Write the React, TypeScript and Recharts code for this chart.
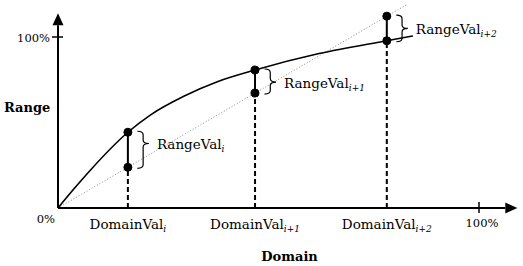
import { ComposedChart, Line, XAxis, YAxis, ReferenceLine, ReferenceDot, Label } from "recharts";

// concave mapping curve (domain %, range %)
const curveX = [0, 4, 8, 16.6, 22, 30, 38, 46.8, 62, 78.1, 84.3];
const curveY = [0, 11.8, 23, 44.3, 54.5, 65.5, 74, 80.7, 90.3, 97.8, 100.6];
// dotted linear reference
const lineX = [0, 83.1];
const lineY = [0, 119.3];
// sample points
const domainVals = [16.6, 46.8, 78.1];
const curveAt = [44.3, 80.7, 97.8];
const lineAt = [23.8, 67.2, 112.2];
const subscripts = ["i", "i+1", "i+2"];
const xTicks = [...domainVals, 100];
const yTicks = [0, 100];
const axisEnd = { x: 109.1, y: 113.9 };

// where the brace point sits along each gap (0 = top, 1 = bottom)
const braceTip = [0.33, 0.52, 0.5];

// only serif face available here
const FONT = "DejaVu Serif";

const curveData = curveX.map((x, i) => ({ x, y: curveY[i] }));
const lineData = lineX.map((x, i) => ({ x, y: lineY[i] }));

function ArrowLine(props: any) {
  const { x1, y1, x2, y2 } = props;
  const dx = x2 - x1;
  const dy = y2 - y1;
  const len = Math.hypot(dx, dy) || 1;
  const ux = dx / len;
  const uy = dy / len;
  const hl = 12;
  const hw = 5.5;
  const bx = x2 - ux * hl;
  const by = y2 - uy * hl;
  const px = -uy;
  const py = ux;
  return (
    <g>
      <line x1={x1} y1={y1} x2={bx} y2={by} stroke="#000" strokeWidth={2} />
      <polygon
        points={`${x2},${y2} ${bx + px * hw},${by + py * hw} ${bx - px * hw},${by - py * hw}`}
        fill="#000"
      />
    </g>
  );
}

function makeBrace(sub: string, frac: number) {
  return (p: any) => {
    const { x1, y1, x2, y2 } = p;
    const top = Math.min(y1, y2) - 1;
    const bot = Math.max(y1, y2) + 1;
    const tip = top + (bot - top) * frac;
    const w = 11.5;
    const bx = x1 + 9.5;
    const cx = bx + w / 2;
    const c = 3.5;
    const d = `M${bx},${top} Q${cx},${top} ${cx},${top + c} L${cx},${tip - c} Q${cx},${tip} ${bx + w},${tip} Q${cx},${tip} ${cx},${tip + c} L${cx},${bot - c} Q${cx},${bot} ${bx},${bot}`;
    return (
      <g>
        <line x1={x1} y1={y1} x2={x2} y2={y2} stroke="#000" strokeWidth={2} />
        <path d={d} fill="none" stroke="#000" strokeWidth={1.2} />
        <text x={bx + w + 8} y={tip + 5.5} fontSize={13.5} fontFamily={FONT} fill="#000">
          RangeVal
          <tspan fontSize={9} fontStyle="italic" dy={3}>{sub}</tspan>
        </text>
      </g>
    );
  };
}

function XTick({ x, y, payload }: any) {
  const v = payload.value;
  if (v === 100) {
    return (
      <g>
        <line x1={x} x2={x} y1={y - 6} y2={y + 5} stroke="#000" strokeWidth={1.5} />
        <text x={x + 3} y={y + 19} textAnchor="middle" fontSize={11.5} fontFamily={FONT} fill="#000">100%</text>
      </g>
    );
  }
  const idx = domainVals.indexOf(v);
  return (
    <text x={x} y={y + 21} textAnchor="middle" fontSize={13.5} fontFamily={FONT} fill="#000">
      DomainVal
      <tspan fontSize={9} fontStyle="italic" dy={3}>{subscripts[idx]}</tspan>
    </text>
  );
}

function YTick({ x, y, payload }: any) {
  if (payload.value === 100) {
    return (
      <g>
        <line x1={x - 6} x2={x + 5} y1={y} y2={y} stroke="#000" strokeWidth={1.5} />
        <text x={x - 8} y={y + 5} textAnchor="end" fontSize={11.5} fontFamily={FONT} fill="#000">100%</text>
      </g>
    );
  }
  return (
    <text x={x - 3} y={y + 15} textAnchor="end" fontSize={11.5} fontFamily={FONT} fill="#000">0%</text>
  );
}

export default function App() {
  return (
    <div style={{ position: "absolute", left: 0, top: 0, width: 523, height: 266, background: "#fff" }}>
      <ComposedChart width={523} height={266} margin={{ top: 2.8, right: 1.9, bottom: 0, left: 0 }}>
        <XAxis
          type="number"
          dataKey="x"
          domain={[0, 110]}
          ticks={xTicks}
          interval={0}
          tick={<XTick />}
          axisLine={false}
          tickLine={false}
          tickSize={0}
          tickMargin={0}
          height={58}
        >
          <Label value="Domain" position="insideBottom" offset={5} fontSize={13} fontWeight="bold" fontFamily={FONT} fill="#000" />
        </XAxis>
        <YAxis
          type="number"
          dataKey="y"
          domain={[0, 120]}
          ticks={yTicks}
          interval={0}
          tick={<YTick />}
          axisLine={false}
          tickLine={false}
          tickSize={0}
          tickMargin={0}
          width={58}
        >
          <Label value="Range" position="insideLeft" offset={4} dy={2} fontSize={13} fontWeight="bold" fontFamily={FONT} fill="#000" />
        </YAxis>

        <Line
          data={lineData}
          dataKey="y"
          type="linear"
          stroke="#8a8a8a"
          strokeWidth={1}
          strokeDasharray="1 2"
          dot={false}
          activeDot={false}
          isAnimationActive={false}
        />
        <Line
          data={curveData}
          dataKey="y"
          type="monotone"
          stroke="#000"
          strokeWidth={1.6}
          dot={false}
          activeDot={false}
          isAnimationActive={false}
        />

        <ReferenceLine segment={[{ x: 0, y: 0 }, { x: axisEnd.x, y: 0 }]} shape={ArrowLine} ifOverflow="visible" />
        <ReferenceLine segment={[{ x: 0, y: 0 }, { x: 0, y: axisEnd.y }]} shape={ArrowLine} ifOverflow="visible" />

        {domainVals.map((d, i) => (
          <ReferenceLine
            key={`dash-${i}`}
            segment={[{ x: d, y: 0 }, { x: d, y: Math.min(curveAt[i], lineAt[i]) }]}
            stroke="#000"
            strokeWidth={2}
            strokeDasharray="5 3"
            ifOverflow="visible"
          />
        ))}
        {domainVals.map((d, i) => (
          <ReferenceLine
            key={`gap-${i}`}
            segment={[{ x: d, y: curveAt[i] }, { x: d, y: lineAt[i] }]}
            shape={makeBrace(subscripts[i], braceTip[i])}
            ifOverflow="visible"
          />
        ))}
        {domainVals.map((d, i) => (
          <ReferenceDot key={`c-${i}`} x={d} y={curveAt[i]} r={4} fill="#000" stroke="#000" ifOverflow="visible" />
        ))}
        {domainVals.map((d, i) => (
          <ReferenceDot key={`l-${i}`} x={d} y={lineAt[i]} r={4} fill="#000" stroke="#000" ifOverflow="visible" />
        ))}
      </ComposedChart>
    </div>
  );
}
